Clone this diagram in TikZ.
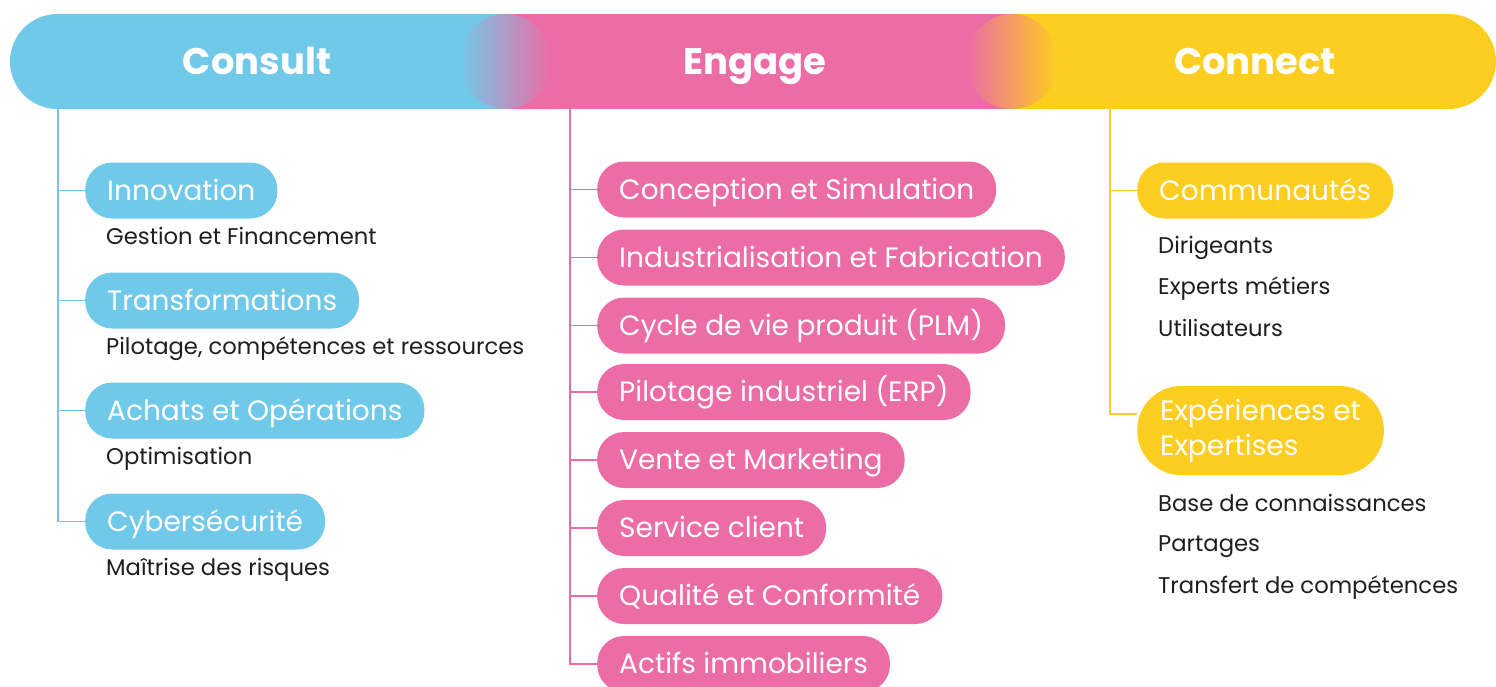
\documentclass[tikz,border=0pt]{standalone}
\usepackage{fontspec}
\setmainfont{Poppins}
\usetikzlibrary{positioning}
\definecolor{cblue}{HTML}{71C9EA}
\definecolor{cpink}{HTML}{EC6CA5}
\definecolor{cyellow}{HTML}{FDCD1F}
\definecolor{subgray}{HTML}{1E1E1E}

\begin{document}
\begin{tikzpicture}[x=1pt,y=-1pt,
    pill/.style={fill=#1,text=white,rounded corners=27pt,anchor=west,
                 minimum height=56pt,inner xsep=22pt,text height=24pt,text depth=5pt,
                 font=\fontsize{28}{34}\selectfont},
    sub/.style={text=subgray,inner sep=0pt,text height=18pt,text depth=5pt,
                font=\fontsize{22.7}{27}\selectfont},
    head/.style={text=white,inner sep=0pt,text height=30pt,text depth=5pt,
                 font=\fontsize{37}{42}\selectfont\bfseries},
    trunk/.style={draw=#1,line width=1.2pt}]
  \useasboundingbox (0,0) rectangle (1496,686);

  % header band
  \fill[cblue,rounded corners=47.5pt] (10,14) rectangle (600,109);
  \fill[cyellow,rounded corners=47.5pt] (950,14) rectangle (1496,109);
  \fill[cpink] (505,14) rectangle (1012,109);
  \shade[left color=cblue,right color=cpink] (505,61.5) ellipse (46 and 47.5);
  \shade[left color=cpink,right color=cyellow] (1012,61.5) ellipse (46 and 47.5);
  \node[head] (consult) at (257,61.5) {Consult};
  \node[head] (engage) at (755,61.5) {Engage};
  \node[head] (connect) at (1255,61.5) {Connect};
  \coordinate (ctrunk) at (58,109);
  \coordinate (etrunk) at (570,109);
  \coordinate (ntrunk) at (1110,109);

  % Consult
  \node[pill=cblue] (innov) at (85,190.5) {Innovation};
  \node[pill=cblue] (transf) at (85,300.5) {Transformations};
  \node[pill=cblue] (achats) at (85,410.5) {Achats et Opérations};
  \node[pill=cblue] (cyber) at (85,521.5) {Cybersécurité};
  \node[sub,below right=8pt and 21pt of innov.south west] (gestion) {Gestion et Financement};
  \node[sub,below right=8pt and 21pt of transf.south west] (pilotage) {Pilotage, compétences et ressources};
  \node[sub,below right=8pt and 21pt of achats.south west] (optim) {Optimisation};
  \node[sub,below right=8pt and 21pt of cyber.south west] (risques) {Maîtrise des risques};

  % Engage
  \node[pill=cpink] (concep) at (597,189.5) {Conception et Simulation};
  \node[pill=cpink] (indus) at (597,257.5) {Industrialisation et Fabrication};
  \node[pill=cpink] (cycle) at (597,325.5) {Cycle de vie produit (PLM)};
  \node[pill=cpink] (erp) at (597,392) {Pilotage industriel (ERP)};
  \node[pill=cpink] (vente) at (597,460) {Vente et Marketing};
  \node[pill=cpink] (service) at (597,528) {Service client};
  \node[pill=cpink] (qualite) at (597,596) {Qualité et Conformité};
  \node[pill=cpink] (actifs) at (597,664) {Actifs immobiliers};

  % Connect
  \node[pill=cyellow] (commu) at (1137,190.5) {Communautés};
  \node[pill=cyellow,rounded corners=44pt,minimum height=89pt,align=left,
        text height=,text depth=,inner xsep=23pt,
        font=\fontsize{28}{34.5}\selectfont] (experi) at (1137,430.5) {Expériences et\\Expertises};
  \node[sub,below right=17pt and 21pt of commu.south west] (dirig) {Dirigeants};
  \node[sub,below=17pt of dirig.south west,anchor=north west] (experts) {Experts métiers};
  \node[sub,below=19pt of experts.south west,anchor=north west] (utilis) {Utilisateurs};
  \node[sub,below right=18pt and 21pt of experi.south west] (base) {Base de connaissances};
  \node[sub,below=17pt of base.south west,anchor=north west] (partages) {Partages};
  \node[sub,below=18pt of partages.south west,anchor=north west] (transfert) {Transfert de compétences};

  % connectors
  \path[trunk=cblue]
    (ctrunk) edge[to path={|- (\tikztotarget)}] (innov)
             edge[to path={|- (\tikztotarget)}] (transf)
             edge[to path={|- (\tikztotarget)}] (achats)
             edge[to path={|- (\tikztotarget)}] (cyber);
  \path[trunk=cpink]
    (etrunk) edge[to path={|- (\tikztotarget)}] (concep)
             edge[to path={|- (\tikztotarget)}] (indus)
             edge[to path={|- (\tikztotarget)}] (cycle)
             edge[to path={|- (\tikztotarget)}] (erp)
             edge[to path={|- (\tikztotarget)}] (vente)
             edge[to path={|- (\tikztotarget)}] (service)
             edge[to path={|- (\tikztotarget)}] (qualite)
             edge[to path={|- (\tikztotarget)}] (actifs);
  \path[trunk=cyellow]
    (ntrunk) edge[to path={|- (\tikztotarget)}] (commu)
             edge[to path={|- (\tikztotarget)}] ([yshift=16.5pt]experi.west);
\end{tikzpicture}
\end{document}
